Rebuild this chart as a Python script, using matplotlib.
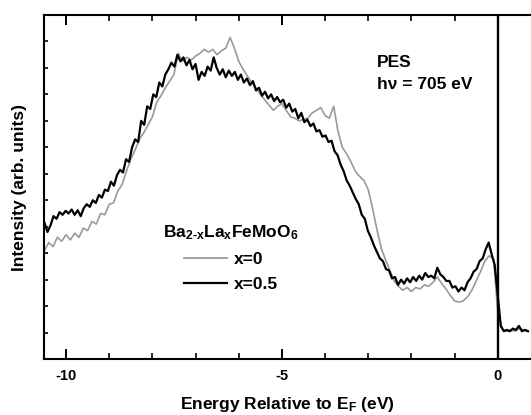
import numpy as np
import matplotlib
matplotlib.use("Agg")
import matplotlib.pyplot as plt
from matplotlib.lines import Line2D

plt.rcParams['font.family'] = ['Liberation Sans', 'DejaVu Sans']
plt.rcParams['font.weight'] = 'bold'
plt.rcParams['axes.labelweight'] = 'bold'
plt.rcParams['axes.unicode_minus'] = False
plt.rcParams['mathtext.fontset'] = 'custom'
plt.rcParams['mathtext.rm'] = 'Liberation Sans:bold'
plt.rcParams['mathtext.it'] = 'Liberation Sans:bold'
plt.rcParams['mathtext.bf'] = 'Liberation Sans:bold'
plt.rcParams['mathtext.default'] = 'rm'

# ---- data ----
# x = 0.5 sample, sampled every 0.07 eV from -10.50 eV
energy_x05 = np.round(np.linspace(-10.50, 0.70, 161), 2)
intensity_x05 = [
    5.15, 4.80, 5.05, 5.40, 5.30, 5.55, 5.45, 5.60, 5.50, 5.65,
    5.45, 5.62, 5.40, 5.70, 5.85, 5.75, 6.00, 5.90, 6.20, 6.10,
    6.40, 6.35, 6.70, 6.55, 6.95, 7.15, 7.05, 7.55, 7.45, 8.00,
    8.30, 8.20, 9.00, 8.85, 9.55, 9.45, 10.00, 9.90, 10.45, 10.30,
    10.75, 10.95, 11.20, 11.05, 11.50, 11.25, 11.40, 11.10, 11.30, 10.95,
    11.15, 10.55, 10.85, 10.70, 11.05, 10.90, 11.40, 11.00, 10.75, 10.95,
    10.65, 10.90, 10.70, 10.85, 10.55, 10.75, 10.45, 10.60, 10.35, 10.50,
    10.15, 10.25, 9.95, 10.10, 9.85, 10.00, 9.75, 9.90, 9.70, 9.80,
    9.50, 9.65, 9.35, 9.45, 9.10, 9.30, 8.95, 9.05, 8.80, 8.90,
    8.60, 8.65, 8.40, 8.45, 8.20, 8.25, 7.85, 7.70, 7.35, 7.10,
    6.75, 6.55, 6.30, 6.05, 5.85, 5.45, 5.30, 4.85, 4.60, 4.30,
    4.05, 3.80, 3.70, 3.40, 3.35, 3.05, 3.10, 2.80, 3.00, 2.85,
    3.05, 2.90, 3.10, 2.95, 3.15, 3.00, 3.25, 3.10, 3.15, 3.05,
    3.45, 3.20, 3.10, 2.95, 2.95, 2.70, 2.75, 2.55, 2.70, 2.60,
    2.90, 3.05, 3.30, 3.40, 3.70, 3.80, 4.15, 4.40, 3.95, 3.55,
    2.40, 1.25, 1.05, 1.10, 1.05, 1.15, 1.10, 1.25, 1.05, 1.10,
    1.05,
]

# x = 0 sample, sampled every 0.1 eV from -10.5 eV
energy_x0 = np.round(np.linspace(-10.5, 0.7, 113), 2)
intensity_x0 = [
    4.10, 4.40, 4.25, 4.60, 4.45, 4.70, 4.50, 4.75, 4.60, 4.95,
    4.85, 5.20, 5.10, 5.50, 5.45, 5.85, 5.90, 6.35, 6.60, 7.10,
    7.55, 7.90, 8.30, 8.55, 8.85, 9.15, 9.70, 9.95, 10.25, 10.50,
    10.75, 11.55, 11.25, 11.40, 11.30, 11.45, 11.55, 11.70, 11.60, 11.70,
    11.50, 11.65, 11.75, 12.15, 11.75, 11.25, 10.95, 10.70, 10.45, 10.25,
    10.00, 9.80, 9.60, 9.40, 9.55, 9.65, 9.40, 9.15, 9.10, 9.00,
    9.05, 9.10, 9.30, 9.40, 9.50, 9.20, 9.10, 9.55, 8.60, 8.00,
    7.75, 7.45, 7.10, 6.90, 6.75, 6.40, 5.70, 4.90, 4.20, 3.75,
    3.35, 2.95, 2.75, 2.60, 2.70, 2.55, 2.70, 2.65, 2.80, 2.75,
    2.90, 3.10, 2.85, 2.65, 2.40, 2.20, 2.15, 2.20, 2.35, 2.60,
    2.95, 3.30, 3.70, 3.90, 3.80, 1.80, 1.15, 1.05, 1.10, 1.05,
    1.15, 1.10, 1.05,
]

series_labels = ["x=0", "x=0.5"]
legend_title = r"Ba$_{2\text{-}x}$La$_x$FeMoO$_6$"
x_ticks_major = [-10, -5, 0]
x_tick_labels = ["-10", "-5", "0"]

# ---- figure ----
fig = plt.figure(figsize=(5.31, 4.15), dpi=100)
ax = fig.add_axes([0.0829, 0.1349, 0.9171, 0.8289])

gray = "#9a9a9a"
ax.plot(energy_x0, intensity_x0, color=gray, lw=1.2, zorder=2)
ax.plot(energy_x05, intensity_x05, color="black", lw=1.6, zorder=3)
ax.axvline(0, color="black", lw=1.7, zorder=4)

ax.set_xlim(-10.51, 0.77)
ax.set_ylim(0, 13)

ax.set_xticks(x_ticks_major)
ax.set_xticklabels(x_tick_labels)
ax.set_xticks(np.arange(-10, 1, 1), minor=True)
ax.set_yticks(np.arange(1, 13, 1))
ax.set_yticklabels([])

ax.tick_params(axis='x', which='major', direction='in', length=7, width=1.4,
               top=True, labelsize=10.5, pad=7)
ax.tick_params(axis='x', which='minor', direction='in', length=4, width=1.2,
               top=True)
ax.tick_params(axis='y', which='major', direction='in', length=3, width=1.2)

for s in ['left', 'bottom', 'top']:
    ax.spines[s].set_linewidth(1.5)
ax.spines['right'].set_visible(False)

ax.set_xlabel(r"Energy Relative to E$_F$ (eV)", fontsize=12.5, labelpad=9)
ax.set_ylabel("Intensity (arb. units)", fontsize=12.5, labelpad=9)

ax.text(0.684, 0.863, "PES", transform=ax.transAxes, fontsize=12.5,
        ha='left', va='center')
ax.text(0.684, 0.797, "h\u03bd = 705 eV", transform=ax.transAxes, fontsize=12.5,
        ha='left', va='center')

handles = [Line2D([], [], color=gray, lw=1.3), Line2D([], [], color="black", lw=1.6)]
leg = ax.legend(handles, series_labels, title=legend_title, frameon=False,
                loc='center', bbox_to_anchor=(0.384, 0.295), fontsize=12.5,
                title_fontsize=12.5, handlelength=2.5, handletextpad=0.4,
                labelspacing=0.55)

fig.savefig("out.png", dpi=100)
